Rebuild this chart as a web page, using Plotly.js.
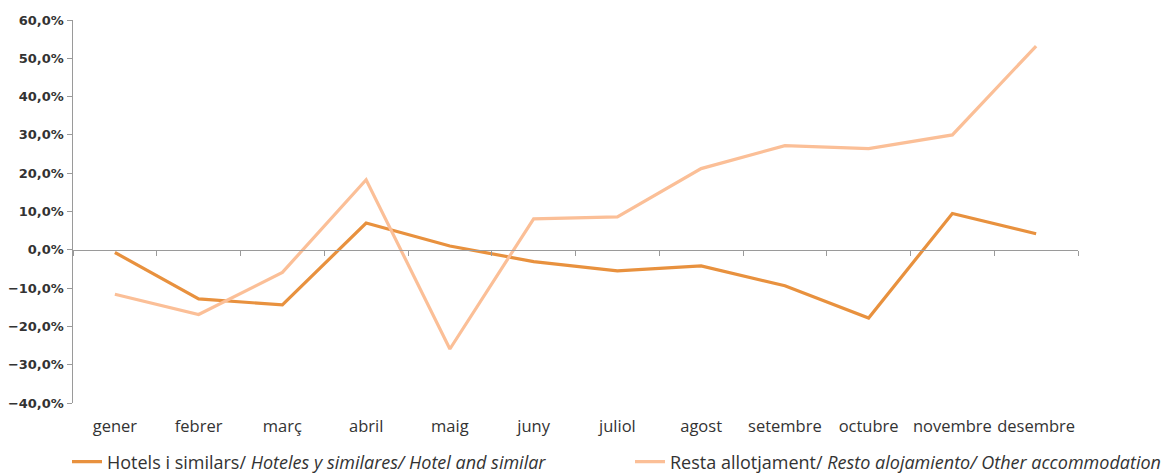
<!DOCTYPE html>
<html>
<head>
<meta charset="utf-8">
<script src="https://cdn.plot.ly/plotly-3.0.1.min.js"></script>
<style>html,body{margin:0;padding:0;background:#fff;}#chart{width:1167px;height:474px;}</style>
</head>
<body>
<div id="chart"></div>
<script>
const months = ["gener","febrer","març","abril","maig","juny","juliol","agost","setembre","octubre","novembre","desembre"];
const hotels = [-0.7, -12.8, -14.4, 7.0, 1.0, -3.1, -5.5, -4.2, -9.4, -17.8, 9.5, 4.2];
const resta = [-11.6, -16.9, -5.9, 18.3, -25.9, 8.1, 8.6, 21.2, 27.2, 26.4, 30.0, 53.2];
const nameHotels = "Hotels i similars/ <i>Hoteles y similares/ Hotel and similar</i>";
const nameResta = "Resta allotjament/ <i>Resto alojamiento/ Other accommodation</i>";
const yMin = -40, yMax = 60;

const traces = [
  {x: months, y: hotels, name: nameHotels, type: "scatter", mode: "lines", legend: "legend",
   line: {color: "#E8913E", width: 3.2}},
  {x: months, y: resta, name: nameResta, type: "scatter", mode: "lines", legend: "legend2",
   line: {color: "#FBBF97", width: 3.2}},
  {x: months, y: months.map(() => 0), xaxis: "x2", type: "scatter", mode: "lines",
   line: {width: 0}, opacity: 0, showlegend: false, hoverinfo: "skip"}
];

const px = v => (v - 73) / 1005;
const legendBase = {orientation: "h", xanchor: "left", y: (403 - 462) / 383, yanchor: "middle",
                    bgcolor: "rgba(0,0,0,0)", font: {size: 18, color: "#333"}};

const layout = {
  width: 1167, height: 474,
  margin: {l: 73, r: 89, t: 20, b: 71, autoexpand: false},
  paper_bgcolor: "#fff", plot_bgcolor: "#fff",
  separators: ", ",
  font: {family: "'Open Sans', sans-serif", color: "#333"},
  showlegend: true,
  legend: Object.assign({}, legendBase, {x: px(67)}),
  legend2: Object.assign({}, legendBase, {x: px(630)}),
  xaxis: {type: "category", range: [-0.5, 11.5], showline: false, showgrid: false,
          zeroline: false, ticks: "outside", ticklen: 8, tickcolor: "rgba(0,0,0,0)",
          tickfont: {size: 16.5, color: "#333"}, fixedrange: true},
  xaxis2: {type: "category", overlaying: "x", anchor: "free",
           position: (0 - yMin) / (yMax - yMin), range: [-0.5, 11.5],
           showline: true, linecolor: "#9a9a9a", linewidth: 1.5, showgrid: false,
           zeroline: false, ticks: "outside", tickson: "boundaries", ticklen: 5,
           tickcolor: "#9a9a9a", showticklabels: false, side: "bottom"},
  yaxis: {range: [yMin, yMax], dtick: 10, tick0: 0, tickformat: ".1f", ticksuffix: "%",
          showline: true, linecolor: "#9a9a9a", linewidth: 1.5, showgrid: false,
          zeroline: false, ticks: "outside", ticklen: 5, tickcolor: "#9a9a9a",
          tickfont: {size: 13, color: "#333", family: "'DejaVu Sans', sans-serif", weight: "bold"}}
};

Plotly.newPlot("chart", traces, layout, {displayModeBar: false, staticPlot: true});
</script>
</body>
</html>
